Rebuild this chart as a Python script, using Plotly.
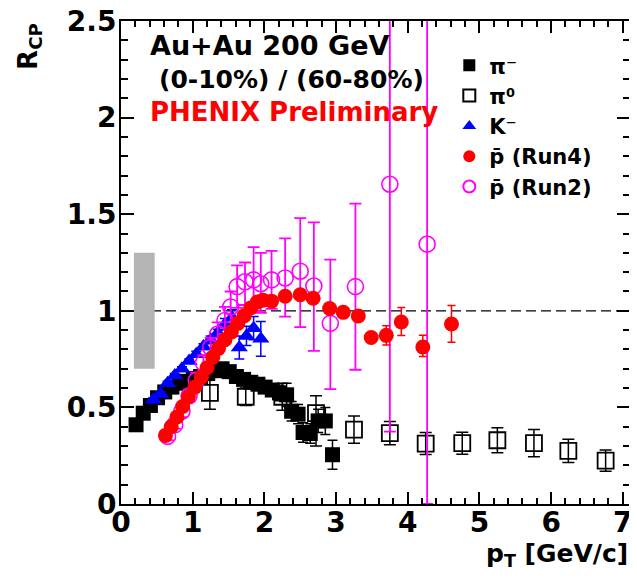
import plotly.graph_objects as go

# ---------------- data ----------------
# pi- (filled black squares)
pim_x = [0.21, 0.31, 0.41, 0.51, 0.61, 0.71, 0.81, 0.91, 1.01, 1.11, 1.21, 1.31, 1.41, 1.51,
         1.61, 1.71, 1.81, 1.91, 2.01, 2.11, 2.21, 2.31, 2.38, 2.47, 2.54, 2.64, 2.75, 2.85, 2.95]
pim_y = [0.41, 0.47, 0.51, 0.55, 0.58, 0.605, 0.625, 0.635, 0.65, 0.66, 0.675, 0.69, 0.70, 0.685,
         0.66, 0.645, 0.63, 0.62, 0.605, 0.59, 0.575, 0.565, 0.48, 0.465, 0.37, 0.365, 0.43, 0.43, 0.255]
pim_e = [0.02, 0.02, 0.02, 0.02, 0.02, 0.02, 0.02, 0.02, 0.02, 0.02, 0.02, 0.02, 0.02, 0.02,
         0.02, 0.02, 0.03, 0.03, 0.03, 0.03, 0.04, 0.06, 0.05, 0.05, 0.05, 0.05, 0.06, 0.07, 0.075]

# pi0 (open black squares)
pi0_x = [1.24, 1.74, 2.25, 2.72, 3.25, 3.75, 4.25, 4.76, 5.25, 5.76, 6.24, 6.76]
pi0_y = [0.575, 0.555, 0.555, 0.47, 0.385, 0.367, 0.313, 0.315, 0.33, 0.315, 0.275, 0.225]
pi0_ep = [0.085, 0.045, 0.07, 0.09, 0.07, 0.06, 0.057, 0.057, 0.065, 0.07, 0.06, 0.055]
pi0_em = [0.085, 0.045, 0.07, 0.17, 0.07, 0.06, 0.057, 0.057, 0.065, 0.07, 0.06, 0.055]

# K- (blue triangles)
km_x = [0.45, 0.55, 0.65, 0.75, 0.85, 0.95, 1.05, 1.15, 1.25, 1.35, 1.45, 1.55, 1.65, 1.75, 1.85, 1.95]
km_y = [0.54, 0.57, 0.625, 0.665, 0.70, 0.74, 0.775, 0.815, 0.85, 0.885, 0.93, 0.965, 0.81, 0.87, 0.91, 0.855]
km_e = [0.01, 0.01, 0.01, 0.01, 0.01, 0.01, 0.015, 0.015, 0.02, 0.02, 0.03, 0.04, 0.06, 0.05, 0.06, 0.09]

# pbar Run4 (red filled circles)
pr4_x = [0.62, 0.70, 0.78, 0.86, 0.94, 1.03, 1.12, 1.20, 1.28, 1.36, 1.45, 1.54, 1.63, 1.72, 1.81,
         1.90, 1.98, 2.10, 2.29, 2.50, 2.68, 2.91, 3.10, 3.31, 3.49, 3.70, 3.91, 4.21, 4.61]
pr4_y = [0.355, 0.40, 0.45, 0.505, 0.555, 0.605, 0.655, 0.705, 0.76, 0.805, 0.85, 0.89, 0.935, 0.975,
         1.015, 1.045, 1.055, 1.05, 1.075, 1.083, 1.065, 1.012, 0.992, 0.973, 0.862, 0.873, 0.942, 0.813, 0.932]
pr4_ep = [0.01, 0.01, 0.01, 0.01, 0.01, 0.01, 0.01, 0.01, 0.01, 0.01, 0.01, 0.01, 0.01, 0.01, 0.01,
          0.015, 0.015, 0.015, 0.02, 0.02, 0.02, 0.02, 0.02, 0.025, 0.025, 0.05, 0.075, 0.06, 0.095]
pr4_em = [0.01, 0.01, 0.01, 0.01, 0.01, 0.01, 0.01, 0.01, 0.01, 0.01, 0.01, 0.01, 0.01, 0.01, 0.01,
          0.015, 0.015, 0.015, 0.02, 0.02, 0.02, 0.02, 0.02, 0.025, 0.025, 0.05, 0.07, 0.05, 0.095]

# pbar Run2 (open magenta circles)
pr2_x = [0.65, 0.75, 0.85, 0.95, 1.05, 1.15, 1.25, 1.35, 1.45, 1.53, 1.62, 1.73, 1.85, 1.95, 2.10,
         2.29, 2.50, 2.69, 2.92, 3.27, 3.75, 4.27]
pr2_y = [0.35, 0.41, 0.48, 0.56, 0.64, 0.73, 0.81, 0.88, 0.95, 1.02, 1.125, 1.15, 1.16, 1.14, 1.16,
         1.17, 1.205, 1.128, 0.935, 1.125, 1.655, 1.345]
pr2_ep = [0.02, 0.02, 0.03, 0.03, 0.04, 0.04, 0.05, 0.06, 0.07, 0.08, 0.11, 0.10, 0.17, 0.16, 0.15,
          0.205, 0.275, 0.33, 0.33, 0.43, 1.2, 1.5]
pr2_em = [0.02, 0.02, 0.03, 0.03, 0.04, 0.04, 0.05, 0.06, 0.07, 0.08, 0.11, 0.12, 0.16, 0.15, 0.15,
          0.20, 0.29, 0.335, 0.34, 0.43, 1.28, 1.345]

# normalization uncertainty box and reference line
norm_box_x = [0.18, 0.47]
norm_box_y = [0.70, 1.30]
ref_line_y = 1.0

x_range = [0, 7.1]
y_range = [0, 2.5]
x_ticks = [0, 1, 2, 3, 4, 5, 6, 7]
y_ticks = [0, 0.5, 1, 1.5, 2, 2.5]
y_tick_text = ["0", "0.5", "1", "1.5", "2", "2.5"]

# ---------------- figure ----------------
FONT = "DejaVu Sans, Liberation Sans, Arial, sans-serif"
MAG = "#ff00ff"

fig = go.Figure()

fig.add_shape(type="rect", xref="x", yref="y",
              x0=norm_box_x[0], x1=norm_box_x[1], y0=norm_box_y[0], y1=norm_box_y[1],
              fillcolor="#b4b4b4", line=dict(width=0), layer="above")
fig.add_shape(type="line", xref="x", yref="y", x0=x_range[0], x1=x_range[1],
              y0=ref_line_y, y1=ref_line_y, line=dict(color="black", width=1.3, dash="10px,5px"),
              layer="below")

fig.add_trace(go.Scatter(
    x=pim_x, y=pim_y, mode="markers", name="π⁻", legendrank=1,
    marker=dict(symbol="square", size=15, color="black"),
    error_y=dict(type="data", array=pim_e, color="black", thickness=1.5, width=5)))
fig.add_trace(go.Scatter(
    x=pi0_x, y=pi0_y, mode="markers", name="π⁰", legendrank=2,
    marker=dict(symbol="square-open", size=16, color="black", line=dict(width=1.8)),
    error_y=dict(type="data", array=pi0_ep, arrayminus=pi0_em, color="black", thickness=1.5, width=6)))
fig.add_trace(go.Scatter(
    x=km_x, y=km_y, mode="markers", name="K⁻", legendrank=3,
    marker=dict(symbol="triangle-up", size=15, color="#0000ff"),
    error_y=dict(type="data", array=km_e, color="#0000ff", thickness=1.5, width=5)))
fig.add_trace(go.Scatter(
    x=pr2_x, y=pr2_y, mode="markers", name="p\u0304 (Run2)", legendrank=5,
    marker=dict(symbol="circle-open", size=16, color=MAG, line=dict(width=1.6)),
    error_y=dict(type="data", array=pr2_ep, arrayminus=pr2_em, color=MAG, thickness=1.8, width=6)))
fig.add_trace(go.Scatter(
    x=pr4_x, y=pr4_y, mode="markers", name="p\u0304 (Run4)", legendrank=4,
    marker=dict(symbol="circle", size=15, color="#ff0000"),
    error_y=dict(type="data", array=pr4_ep, arrayminus=pr4_em, color="#ff0000", thickness=1.5, width=4)))

axis_common = dict(
    showgrid=False, zeroline=False, showline=True, linecolor="black", linewidth=2,
    mirror="allticks", ticks="inside", tickcolor="black", tickwidth=1.5, automargin=False,
    ticklabeloverflow="allow",
    tickfont=dict(family=FONT, size=28, color="black", weight="bold"),
)

fig.update_xaxes(range=x_range, tickvals=x_ticks, ticklen=12,
                 minor=dict(dtick=0.2, ticks="inside", ticklen=6, tickcolor="black", tickwidth=1.5),
                 ticklabelstandoff=-8, **axis_common)
fig.update_yaxes(range=y_range, tickvals=y_ticks, ticktext=y_tick_text, ticklen=13,
                 minor=dict(dtick=0.1, ticks="inside", ticklen=7, tickcolor="black", tickwidth=1.5),
                 ticklabelstandoff=-3, **axis_common)

fig.add_annotation(xref="paper", yref="paper", x=0.053, y=0.95, xanchor="left", yanchor="middle",
                   text="Au+Au 200 GeV", showarrow=False,
                   font=dict(family=FONT, size=27, color="black", weight="bold"))
fig.add_annotation(xref="paper", yref="paper", x=0.07, y=0.879, xanchor="left", yanchor="middle",
                   text="(0-10%) / (60-80%)", showarrow=False,
                   font=dict(family=FONT, size=25, color="black", weight="bold"))
fig.add_annotation(xref="paper", yref="paper", x=0.053, y=0.811, xanchor="left", yanchor="middle",
                   text="PHENIX Preliminary", showarrow=False,
                   font=dict(family=FONT, size=26, color="#ff0000", weight="bold"))

fig.add_annotation(xref="paper", yref="paper", x=1.0, y=-0.105, xanchor="right", yanchor="middle",
                   text="p<sub>T</sub> [GeV/c]", showarrow=False,
                   font=dict(family=FONT, size=25, color="black", weight="bold"))
fig.add_annotation(xref="paper", yref="paper", x=-0.18, y=1.0, xanchor="center", yanchor="top",
                   text="R<sub>CP</sub>", textangle=-90, showarrow=False,
                   font=dict(family=FONT, size=26, color="black", weight="bold"))

# the page body adds an 8px offset, so the figure is sized to fit the window after it
fig.update_layout(
    width=629, height=571,
    margin=dict(l=113, r=7, t=13, b=75),
    paper_bgcolor="white", plot_bgcolor="white",
    showlegend=True,
    legend=dict(x=0.645, y=0.95, xanchor="left", yanchor="top", bgcolor="rgba(0,0,0,0)",
                font=dict(family=FONT, size=21, color="black", weight="bold"),
                tracegroupgap=0, itemsizing="constant", traceorder="normal"),
)

fig.write_html("out.html")
